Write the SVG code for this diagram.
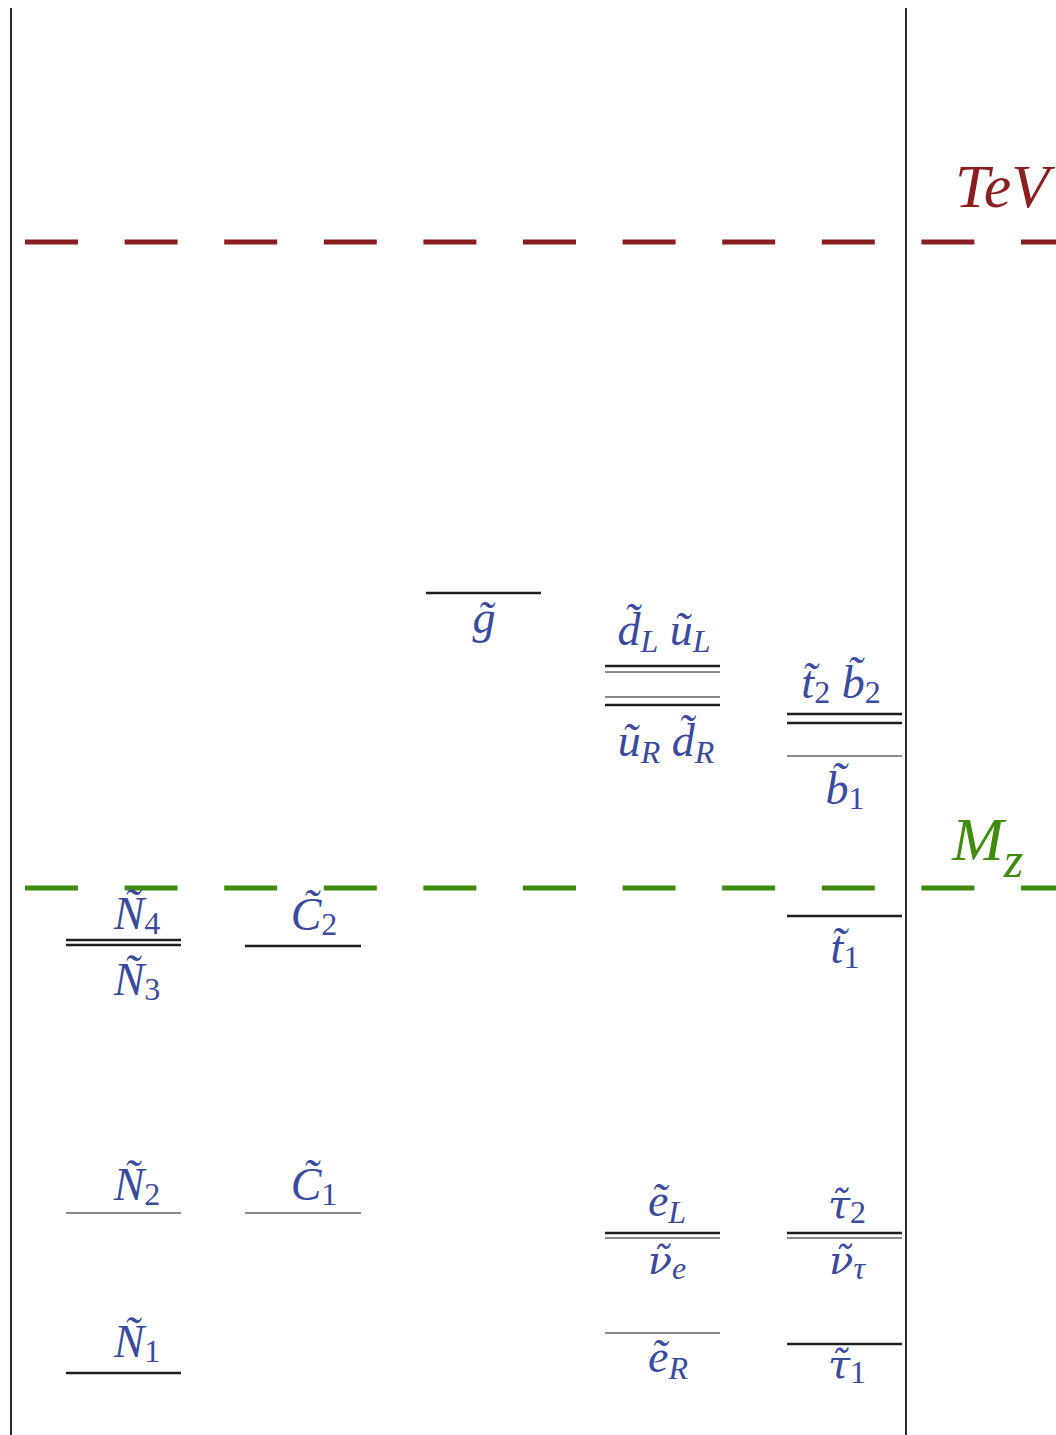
<svg xmlns="http://www.w3.org/2000/svg" width="1056" height="1435" viewBox="0 0 1056 1435">
<style>
.frame{stroke:#2a2a2a;stroke-width:2;fill:none}
.tev{stroke:#8b1f1f;stroke-width:5;stroke-dasharray:53 46.6;fill:none}
.mz{stroke:#3f8c0f;stroke-width:5;stroke-dasharray:53 46.6;fill:none}
.lvl{stroke:#1e1e1e;stroke-width:2.5}
.lvlg{stroke:#8a8a8a;stroke-width:2}
.lab{font-family:"Liberation Serif","DejaVu Serif",serif;font-style:italic;font-size:46px;fill:#3a4a9e;text-anchor:middle}
.gr{font-family:"DejaVu Serif",serif;font-size:40px}
.sub{font-size:32px;font-style:normal}
.subi{font-size:32px}
.scale{font-family:"Liberation Serif","DejaVu Serif",serif;font-style:italic;font-size:62px}
</style>
<rect width="1056" height="1435" fill="#ffffff"/>
<g id="axes">
<line class="frame" x1="11" y1="8" x2="11" y2="1435"/>
<line class="frame" x1="906" y1="8" x2="906" y2="1435"/>
</g>
<g id="tev-scale">
<line class="tev" x1="25" y1="242" x2="1056" y2="242"/>
<text class="scale" x="955" y="207" fill="#8b1f1f">TeV</text>
</g>
<g id="mz-scale">
<line class="mz" x1="25" y1="888" x2="1056" y2="888"/>
<text class="scale" x="952" y="860" fill="#3f8c0f" font-size="64">M<tspan font-size="50" dy="17">z</tspan></text>
</g>
<g id="gluino">
<line class="lvl" x1="426" y1="593" x2="541" y2="593"/>
<text class="lab" x="484" y="633">g̃</text>
</g>
<g id="squarks-L">
<line class="lvl" x1="605" y1="666" x2="720" y2="666"/>
<line class="lvlg" x1="605" y1="672" x2="720" y2="672"/>
<text class="lab" x="664" y="645">d̃<tspan class="subi" dy="7">L</tspan><tspan dy="-7"> ũ</tspan><tspan class="subi" dy="7">L</tspan></text>
</g>
<g id="squarks-R">
<line class="lvlg" x1="605" y1="697" x2="720" y2="697"/>
<line class="lvl" x1="605" y1="705" x2="720" y2="705"/>
<text class="lab" x="666" y="756">ũ<tspan class="subi" dy="7">R</tspan><tspan dy="-7"> d̃</tspan><tspan class="subi" dy="7">R</tspan></text>
</g>
<g id="stop2-sbottom2">
<line class="lvl" x1="787" y1="714" x2="902" y2="714"/>
<line class="lvl" x1="787" y1="723" x2="902" y2="723"/>
<text class="lab" x="841" y="698">t̃<tspan class="sub" dy="5">2</tspan><tspan dy="-5"> b̃</tspan><tspan class="sub" dy="5">2</tspan></text>
</g>
<g id="sbottom1">
<line class="lvlg" x1="787" y1="756" x2="902" y2="756"/>
<text class="lab" x="845" y="804">b̃<tspan class="sub" dy="5">1</tspan></text>
</g>
<g id="stop1">
<line class="lvl" x1="787" y1="916" x2="902" y2="916"/>
<text class="lab" x="845" y="963">t̃<tspan class="sub" dy="5">1</tspan></text>
</g>
<g id="N4-N3">
<line class="lvl" x1="66" y1="940" x2="181" y2="940"/>
<line class="lvl" x1="66" y1="945" x2="181" y2="945"/>
<text class="lab" x="137" y="929">Ñ<tspan class="sub" dy="5">4</tspan></text>
<text class="lab" x="137" y="995">Ñ<tspan class="sub" dy="5">3</tspan></text>
</g>
<g id="C2">
<line class="lvl" x1="245" y1="946" x2="361" y2="946"/>
<text class="lab" x="314" y="930">C̃<tspan class="sub" dy="5">2</tspan></text>
</g>
<g id="N2">
<line class="lvlg" x1="66" y1="1213" x2="181" y2="1213"/>
<text class="lab" x="137" y="1200">Ñ<tspan class="sub" dy="5">2</tspan></text>
</g>
<g id="C1">
<line class="lvlg" x1="245" y1="1213" x2="361" y2="1213"/>
<text class="lab" x="314" y="1200">C̃<tspan class="sub" dy="5">1</tspan></text>
</g>
<g id="N1">
<line class="lvl" x1="66" y1="1373" x2="181" y2="1373"/>
<text class="lab" x="137" y="1357">Ñ<tspan class="sub" dy="5">1</tspan></text>
</g>
<g id="eL-nue">
<line class="lvl" x1="605" y1="1233" x2="720" y2="1233"/>
<line class="lvlg" x1="605" y1="1238" x2="720" y2="1238"/>
<text class="lab" x="667" y="1216">ẽ<tspan class="subi" dy="7">L</tspan></text>
<text class="lab" x="667" y="1274"><tspan class="gr">ν̃</tspan><tspan class="subi" dy="5">e</tspan></text>
</g>
<g id="eR">
<line class="lvlg" x1="605" y1="1333" x2="720" y2="1333"/>
<text class="lab" x="668" y="1372">ẽ<tspan class="subi" dy="7">R</tspan></text>
</g>
<g id="tau2-nutau">
<line class="lvl" x1="787" y1="1233" x2="902" y2="1233"/>
<line class="lvlg" x1="787" y1="1238" x2="902" y2="1238"/>
<text class="lab" x="847" y="1218"><tspan class="gr">τ̃</tspan><tspan class="sub" dy="5">2</tspan></text>
<text class="lab" x="847" y="1274"><tspan class="gr">ν̃</tspan><tspan class="subi" dy="5">τ</tspan></text>
</g>
<g id="tau1">
<line class="lvl" x1="787" y1="1344" x2="902" y2="1344"/>
<text class="lab" x="847" y="1378"><tspan class="gr">τ̃</tspan><tspan class="sub" dy="5">1</tspan></text>
</g>
<g id="connectors"></g>
</svg>
